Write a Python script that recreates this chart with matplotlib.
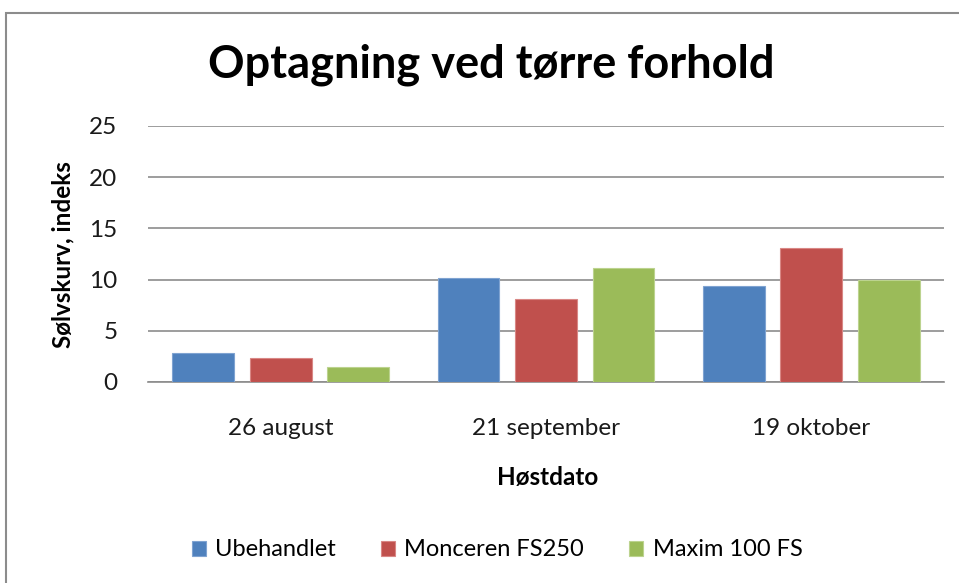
import numpy as np
import matplotlib
matplotlib.use('Agg')
import matplotlib.pyplot as plt
from matplotlib.patches import Rectangle

plt.rcParams['font.family'] = ['Lato', 'DejaVu Sans']

# data
dates = ['26 august', '21 september', '19 oktober']
ubehandlet = [2.8, 10.2, 9.4]
monceren = [2.3, 8.1, 13.1]
maxim = [1.5, 11.1, 10.0]
series = ['Ubehandlet', 'Monceren FS250', 'Maxim 100 FS']
colors = ['#4F81BD', '#C0504D', '#9BBB59']
edges = ['#7FA3D1', '#D98785', '#BCD38F']

fig = plt.figure(figsize=(9.59, 5.83), dpi=100)
ax = fig.add_axes([148 / 959, 1 - 382 / 583, (944 - 148) / 959, (382 - 126) / 583])

# outer chart frame (cut off at the right and bottom)
fig.patches.append(Rectangle((6 / 959, -0.1), 1.1, 1 - 13 / 583 + 0.1,
                             transform=fig.transFigure, fill=False,
                             edgecolor='#8c8c8c', lw=1.5))

x = np.arange(len(dates))
step = 0.292
width = 0.233
for i, vals in enumerate([ubehandlet, monceren, maxim]):
  ax.bar(x + (i - 1) * step, vals, width, color=colors[i], edgecolor=edges[i],
         lw=0.8, label=series[i], zorder=3)

ax.set_xlim(-0.5, 2.5)
ax.set_ylim(0, 25)
ax.set_yticks(np.arange(0, 26, 5))
ax.set_xticks(x)
ax.set_xticklabels(dates)
ax.yaxis.grid(True, color='#8c8c8c', lw=1.2, zorder=0)
for s in ['top', 'right', 'left']:
  ax.spines[s].set_visible(False)
ax.spines['bottom'].set_color('#8c8c8c')
ax.spines['bottom'].set_linewidth(1.2)
ax.tick_params(axis='both', length=0, labelsize=17.5, colors='#1a1a1a')
ax.tick_params(axis='y', pad=22)
ax.tick_params(axis='x', pad=26)

fig.text(491 / 959, 1 - 65 / 583, 'Optagning ved tørre forhold', ha='center',
         va='center', fontsize=32.5, fontweight='bold')
fig.text(63 / 959, 1 - 255 / 583, 'Sølvskurv, indeks', rotation=90, ha='center',
         va='center', fontsize=17.5, fontweight='bold')
fig.text(548 / 959, 1 - 478 / 583, 'Høstdato', ha='center', va='center',
         fontsize=17.5, fontweight='bold')

fig.legend(loc='center', bbox_to_anchor=(497 / 959, 1 - 550 / 583), ncol=3,
           frameon=False, fontsize=17, handlelength=0.6, handleheight=0.6,
           handletextpad=0.4, columnspacing=1.9)

fig.savefig('out.png', dpi=100)
